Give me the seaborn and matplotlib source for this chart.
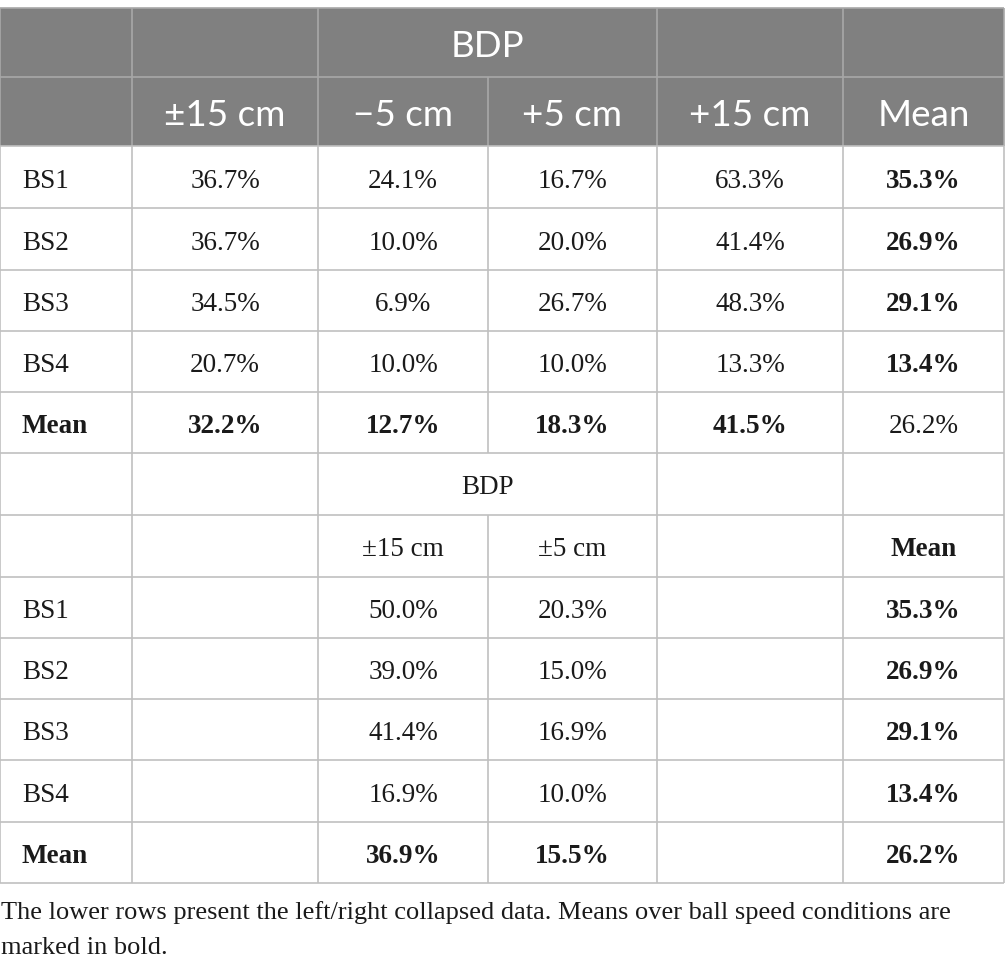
import matplotlib
matplotlib.use("Agg")
import matplotlib.pyplot as plt
import seaborn as sns

# table content
speeds = ["BS1", "BS2", "BS3", "BS4"]
top_cols = ["±15 cm", "−5 cm", "+5 cm", "+15 cm"]
top_vals = [
    ["36.7%", "24.1%", "16.7%", "63.3%"],
    ["36.7%", "10.0%", "20.0%", "41.4%"],
    ["34.5%", "6.9%", "26.7%", "48.3%"],
    ["20.7%", "10.0%", "10.0%", "13.3%"],
]
top_row_means = ["35.3%", "26.9%", "29.1%", "13.4%"]
top_col_means = ["32.2%", "12.7%", "18.3%", "41.5%"]
top_grand_mean = "26.2%"

low_cols = ["±15 cm", "±5 cm"]
low_vals = [
    ["50.0%", "20.3%"],
    ["39.0%", "15.0%"],
    ["41.4%", "16.9%"],
    ["16.9%", "10.0%"],
]
low_row_means = ["35.3%", "26.9%", "29.1%", "13.4%"]
low_col_means = ["36.9%", "15.5%"]
low_grand_mean = "26.2%"

footnote = ["The lower rows present the left/right collapsed data. Means over ball speed conditions are",
            "marked in bold."]

sns.set_theme(style="white")
head_font = ["Lato", "DejaVu Sans"]
body_font = ["Liberation Serif", "DejaVu Serif"]

xe = [0, 132, 318, 488, 657, 843, 1004]
ye = [8, 77, 146, 208, 270, 331, 392, 453, 515, 577, 638, 699, 760, 822, 883]
xc = [(xe[i] + xe[i + 1]) / 2 for i in range(6)]
yc = [(ye[i] + ye[i + 1]) / 2 for i in range(14)]

fig = plt.figure(figsize=(10.05, 9.76), dpi=100)
ax = fig.add_axes([0, 0, 1, 1])
ax.set_xlim(0, 1005)
ax.set_ylim(976, 0)
ax.axis("off")

head_bg = "#808080"
head_line = "#a8a8a8"
grid = "#c0c0c0"

# header background
ax.add_patch(plt.Rectangle((xe[0], ye[0]), xe[-1] - xe[0], ye[2] - ye[0],
                           facecolor=head_bg, edgecolor="none", zorder=0))

def vlines(row, skip, color):
    for i, x in enumerate(xe):
        if i in skip:
            continue
        ax.plot([x, x], [ye[row], ye[row + 1]], color=color, lw=1.2, zorder=2,
                solid_capstyle="butt")

# horizontal lines
for j, y in enumerate(ye):
    col = head_line if j <= 1 else grid
    ax.plot([xe[0], xe[-1]], [y, y], color=col, lw=1.2, zorder=3,
            solid_capstyle="butt")

# vertical lines by row (merged BDP cell skips x index 3)
for r in range(14):
    skip = {3} if r in (0, 7) else set()
    vlines(r, skip, head_line if r < 2 else grid)

# header text
hkw = dict(color="white", fontsize=26.5, family=head_font, ha="center",
           va="center_baseline")
ax.text((xe[2] + xe[4]) / 2, yc[0] + 1, "BDP", **hkw)
for i, c in enumerate(top_cols):
    ax.text(xc[i + 1], yc[1] + 1, c, **hkw)
ax.text(xc[5], yc[1] + 1, "Mean", **hkw)

bkw = dict(color="#1a1a1a", fontsize=19.5, family=body_font, va="center_baseline")

# upper block
for r, s in enumerate(speeds):
    y = yc[2 + r] + 1
    ax.text(22, y, s, ha="left", **bkw)
    for i, v in enumerate(top_vals[r]):
        ax.text(xc[i + 1], y, v, ha="center", **bkw)
    ax.text(xc[5], y, top_row_means[r], ha="center", fontweight="bold", **bkw)
y = yc[6] + 1
ax.text(22, y, "Mean", ha="left", fontweight="bold", **bkw)
for i, v in enumerate(top_col_means):
    ax.text(xc[i + 1], y, v, ha="center", fontweight="bold", **bkw)
ax.text(xc[5], y, top_grand_mean, ha="center", **bkw)

# lower block
ax.text((xe[2] + xe[4]) / 2, yc[7] + 1, "BDP", ha="center", **bkw)
for i, c in enumerate(low_cols):
    ax.text(xc[i + 2], yc[8] + 1, c, ha="center", **bkw)
ax.text(xc[5], yc[8] + 1, "Mean", ha="center", fontweight="bold", **bkw)
for r, s in enumerate(speeds):
    y = yc[9 + r] + 1
    ax.text(22, y, s, ha="left", **bkw)
    for i, v in enumerate(low_vals[r]):
        ax.text(xc[i + 2], y, v, ha="center", **bkw)
    ax.text(xc[5], y, low_row_means[r], ha="center", fontweight="bold", **bkw)
y = yc[13] + 1
ax.text(22, y, "Mean", ha="left", fontweight="bold", **bkw)
for i, v in enumerate(low_col_means):
    ax.text(xc[i + 2], y, v, ha="center", fontweight="bold", **bkw)
ax.text(xc[5], y, low_grand_mean, ha="center", fontweight="bold", **bkw)

# footnote
fkw = dict(bkw, fontsize=19)
for k, line in enumerate(footnote):
    ax.text(1, 910 + 35 * k, line, ha="left", **fkw)

fig.savefig("out.png", dpi=100, facecolor="white")
